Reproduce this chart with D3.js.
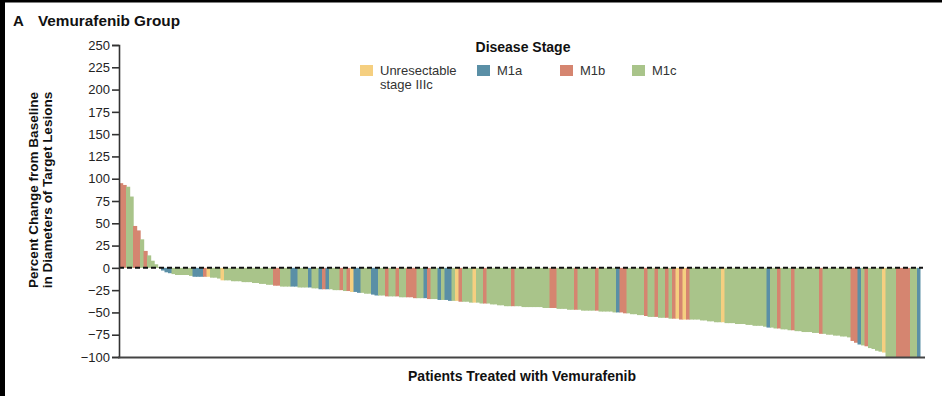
<!DOCTYPE html>
<html>
<head>
<meta charset="utf-8">
<script src="https://cdn.jsdelivr.net/npm/d3@7"></script>
<style>
  body { margin: 0; background: #fff; }
  svg { display: block; font-family: "Liberation Sans", Arial, sans-serif; }
</style>
</head>
<body>
<svg id="chart" width="942" height="396"></svg>
<script>
// percent change per patient, sorted as in the figure
const changes = [
  95, 93, 91, 80, 47, 42, 32, 19, 14, 8, 4, 1, -3, -5, -6, -7, -8, -8, -8, -8,
  -9, -10, -10, -10, -10, -10, -11, -11, -12, -14, -14, -14, -15, -15, -15, -16, -16, -16, -17, -17,
  -18, -18, -19, -19, -20, -20, -21, -21, -21, -21, -21, -22, -22, -22, -22, -23, -23, -24, -24, -24,
  -24, -25, -25, -25, -26, -26, -27, -27, -28, -28, -29, -29, -30, -31, -31, -31, -32, -32, -32, -32,
  -33, -33, -33, -33, -34, -34, -34, -34, -35, -35, -35, -36, -36, -36, -37, -37, -37, -38, -38, -38,
  -39, -39, -39, -40, -40, -40, -41, -41, -42, -42, -43, -43, -43, -43, -43, -44, -44, -44, -44, -44,
  -44, -45, -45, -45, -45, -46, -46, -46, -47, -47, -47, -47, -48, -48, -48, -48, -48, -49, -49, -49,
  -49, -50, -50, -50, -51, -51, -52, -52, -53, -53, -54, -55, -55, -55, -56, -56, -56, -57, -57, -57,
  -58, -58, -58, -58, -58, -58, -59, -59, -60, -60, -61, -61, -61, -62, -62, -62, -63, -63, -63, -64,
  -64, -65, -65, -65, -66, -67, -67, -68, -68, -69, -69, -70, -70, -71, -71, -72, -72, -72, -73, -73,
  -74, -74, -75, -75, -76, -76, -77, -77, -78, -82, -84, -86, -87, -88, -90, -91, -93, -94, -95, -100,
  -100, -100, -100, -100, -100, -100, -100, -100, -100
];

// disease stage per patient, 10 per chunk: u = unresectable IIIc, a = M1a, b = M1b, c = M1c
const stages = [
  "bbccbbcbcc", "ccaaaccccc", "caaabucccu", "cccccccccc", "ccccbbccca",
  "acccaccaba", "cccbcbuaac", "ccaaccbccb", "ccbbbccabc", "cacaacubcc",
  "cuccbccccc", "ccbccccccc", "cccbbccccc", "bcccccbccc", "ccabbccccc",
  "bccbccbcbu", "bubccccccc", "ccuccccccc", "cccccaccbc", "ccbccccccc",
  "bccccccccb", "bacbccccuc", "ccbbbbcca"
].join("").split("");

const ticks = [250, 225, 200, 175, 150, 125, 100, 75, 50, 25, 0, -25, -50, -75, -100];

const legendKeys = ["u", "a", "b", "c"];
const legendLabels = [["Unresectable", "stage IIIc"], ["M1a"], ["M1b"], ["M1c"]];
const colors = { u: "#f5cf80", a: "#5a8fa6", b: "#d58570", c: "#a9c48a" };

const svg = d3.select("#chart");

const x = d3.scaleBand()
  .domain(d3.range(changes.length))
  .range([119, 920.5])
  .paddingInner(0).paddingOuter(0);

const y = d3.scaleLinear().domain([-100, 250]).range([357, 45]);

// frame strips from the scan
svg.append("rect").attr("x", 0).attr("y", 0).attr("width", 942).attr("height", 2.5).attr("fill", "#000");
svg.append("rect").attr("x", 0).attr("y", 0).attr("width", 5).attr("height", 396).attr("fill", "#000");

// bars (slightly widened so neighbours overlap and no seams show)
svg.append("g").selectAll("rect")
  .data(changes)
  .join("rect")
  .attr("x", (d, i) => x(i))
  .attr("width", (d, i) => i === changes.length - 1 ? x.bandwidth() : x.bandwidth() + 0.7)
  .attr("y", d => y(Math.max(0, d)))
  .attr("height", d => Math.abs(y(d) - y(0)))
  .attr("fill", (d, i) => colors[stages[i]] || colors.c);

// zero line
svg.append("line")
  .attr("x1", 119).attr("x2", 923)
  .attr("y1", y(0)).attr("y2", y(0))
  .attr("stroke", "#111").attr("stroke-width", 2)
  .attr("stroke-dasharray", "5,3");

// y axis
const yAxis = svg.append("g")
  .attr("transform", "translate(119,0)")
  .call(d3.axisLeft(y).tickValues(ticks).tickSize(7).tickPadding(2)
    .tickFormat(d => d < 0 ? "\u2212" + Math.abs(d) : d));
yAxis.select(".domain").attr("stroke", "#333").attr("stroke-width", 1.6);
yAxis.selectAll(".tick line").attr("stroke", "#333").attr("stroke-width", 1.6);
yAxis.selectAll(".tick text").attr("fill", "#222").style("font-size", "13px")
  .style("font-family", "'Liberation Sans', Arial, sans-serif");

// x axis baseline
svg.append("line")
  .attr("x1", 118).attr("x2", 925)
  .attr("y1", 357.5).attr("y2", 357.5)
  .attr("stroke", "#444").attr("stroke-width", 2);

// titles
svg.append("text").attr("x", 13).attr("y", 26)
  .attr("font-size", 15).attr("font-weight", "bold").attr("fill", "#111").text("A");
svg.append("text").attr("x", 38).attr("y", 26)
  .attr("font-size", 14.5).attr("font-weight", "bold").attr("fill", "#111")
  .attr("textLength", 142).attr("lengthAdjust", "spacingAndGlyphs")
  .text("Vemurafenib Group");

svg.append("text").attr("x", 522).attr("y", 381)
  .attr("text-anchor", "middle").attr("font-size", 14).attr("font-weight", "bold").attr("fill", "#111")
  .text("Patients Treated with Vemurafenib");

const yTitle = svg.append("text")
  .attr("transform", "translate(0,190) rotate(-90)")
  .attr("text-anchor", "middle").attr("font-size", 13.5).attr("font-weight", "bold").attr("fill", "#111");
yTitle.append("tspan").attr("x", 0).attr("y", 38).text("Percent Change from Baseline");
yTitle.append("tspan").attr("x", 0).attr("y", 52).text("in Diameters of Target Lesions");

// legend
svg.append("text").attr("x", 523).attr("y", 52)
  .attr("text-anchor", "middle").attr("font-size", 14).attr("font-weight", "bold").attr("fill", "#111")
  .text("Disease Stage");

const legendX = [360, 477, 560, 632];
const legend = svg.append("g").selectAll("g")
  .data(legendKeys)
  .join("g")
  .attr("transform", (d, i) => `translate(${legendX[i]},65)`);
legend.append("rect").attr("width", 13).attr("height", 11).attr("fill", d => colors[d]);
legend.append("text")
  .attr("font-size", 13).attr("fill", "#333")
  .selectAll("tspan")
  .data((d, i) => legendLabels[i])
  .join("tspan")
  .attr("x", 20).attr("y", (d, j) => 10 + j * 14)
  .text(d => d);
</script>
</body>
</html>
